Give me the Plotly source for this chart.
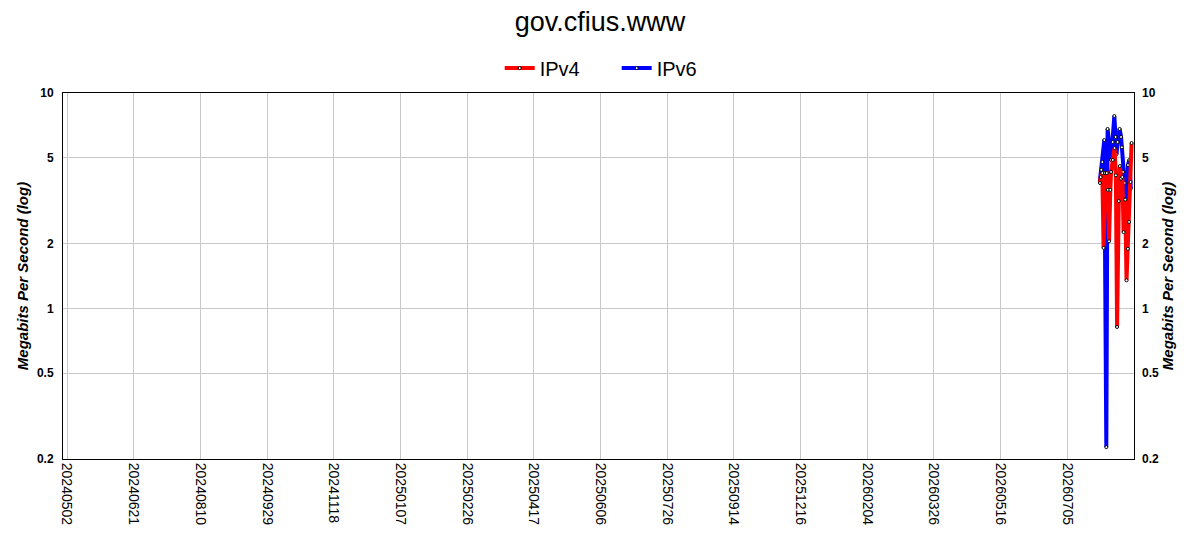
import plotly.graph_objects as go

# x positions are day indices counted from 20240502
tick_idx = [0, 50, 100, 150, 200, 250, 300, 350, 400, 450, 500, 550, 600, 650, 700, 750]
tick_labels = ["20240502", "20240621", "20240810", "20240929", "20241118", "20250107",
               "20250226", "20250417", "20250606", "20250726", "20250914", "20251216",
               "20260204", "20260326", "20260516", "20260705"]

ipv4_x = [774.5, 775.0, 776.25, 777.2, 778.3, 779.6, 780.4, 781.3, 782.25, 782.8, 784.1,
          785.4, 786.4, 787.3, 788.6, 789.4, 790.3, 791.25, 792.2, 793.4, 794.4, 795.4,
          796.3, 797.4, 798.2]
ipv4_y = [3.82, 4.07, 4.25, 1.91, 4.25, 4.25, 3.55, 2.05, 3.55, 4.3, 4.89,
          5.55, 4.15, 0.82, 3.15, 4.58, 4.0, 4.07, 2.26, 3.2, 1.35, 1.89,
          2.52, 3.86, 5.86]

ipv6_x = [774.4, 775.5, 776.25, 777.75, 779.25, 780.2, 782.8, 784.0, 785.25, 786.2, 786.9,
          787.7, 789.2, 790.3, 790.9, 791.8, 793.0, 793.9, 795.5, 796.5, 797.6]
ipv6_y = [3.9, 4.4, 4.78, 6.05, 0.227, 6.81, 4.89, 5.92, 7.82, 6.25, 5.2,
          5.92, 6.81, 6.25, 5.6, 4.3, 3.82, 2.6, 4.63, 4.89, 3.6]

y_ticks = [0.2, 0.5, 1, 2, 5, 10]

marker = dict(size=3, color="white", line=dict(color="black", width=1))
FONT = "Liberation Sans, Arial"

fig = go.Figure()
fig.add_trace(go.Scatter(x=ipv6_x, y=ipv6_y, name="IPv6", mode="lines+markers",
                         line=dict(color="#0000ff", width=4), marker=marker, legendrank=2))
fig.add_trace(go.Scatter(x=ipv4_x, y=ipv4_y, name="IPv4", mode="lines+markers",
                         line=dict(color="#ff0000", width=4), marker=marker, legendrank=1))
# invisible copy on the right-hand axis so that it gets drawn
fig.add_trace(go.Scatter(x=ipv4_x, y=ipv4_y, yaxis="y2", mode="lines", opacity=0,
                         line=dict(width=0), showlegend=False, hoverinfo="skip"))

ylog_range = [-0.69897, 1.0]
axis_title_font = dict(family=FONT, size=15, color="black", weight="bold", style="italic")
tick_font = dict(family=FONT, size=12, color="black", weight="bold")

fig.update_layout(
    width=1200, height=550,
    paper_bgcolor="white", plot_bgcolor="white",
    margin=dict(l=55, r=74, t=85, b=99),
    title=dict(text="gov.cfius.www", x=0.4933, xanchor="center", y=0.9745, yanchor="middle",
               font=dict(family=FONT, size=27, color="black")),
    legend=dict(orientation="h", x=0.517, xanchor="center", y=1.068, yanchor="middle",
                font=dict(family=FONT, size=20, color="black"),
                entrywidth=72, entrywidthmode="pixels", traceorder="normal"),
    showlegend=True,
    xaxis=dict(range=[-3, 800], tickmode="array", tickvals=tick_idx, ticktext=tick_labels,
               tickangle=90, showgrid=True, gridcolor="#c8c8c8", gridwidth=1,
               showline=True, linecolor="black", linewidth=1, mirror=True,
               ticks="", zeroline=False, automargin=False,
               tickfont=dict(family=FONT, size=14, color="black")),
    yaxis=dict(type="log", range=ylog_range, tickmode="array", tickvals=y_ticks,
               ticktext=[str(v) for v in y_ticks],
               showgrid=True, gridcolor="#c8c8c8", gridwidth=1,
               showline=True, linecolor="black", linewidth=1, mirror=True,
               ticks="", zeroline=False, tickfont=tick_font, automargin=False,
               ticklabelstandoff=6,
               title=dict(text="Megabits Per Second (log)", font=axis_title_font, standoff=4)),
    yaxis2=dict(type="log", range=ylog_range, tickmode="array", tickvals=y_ticks,
                ticktext=[str(v) for v in y_ticks], overlaying="y", side="right",
                showgrid=False, ticks="", zeroline=False, tickfont=tick_font, automargin=False,
                ticklabelstandoff=7,
                title=dict(text="Megabits Per Second (log)", font=axis_title_font, standoff=0)),
)

fig.write_html("out.html")
